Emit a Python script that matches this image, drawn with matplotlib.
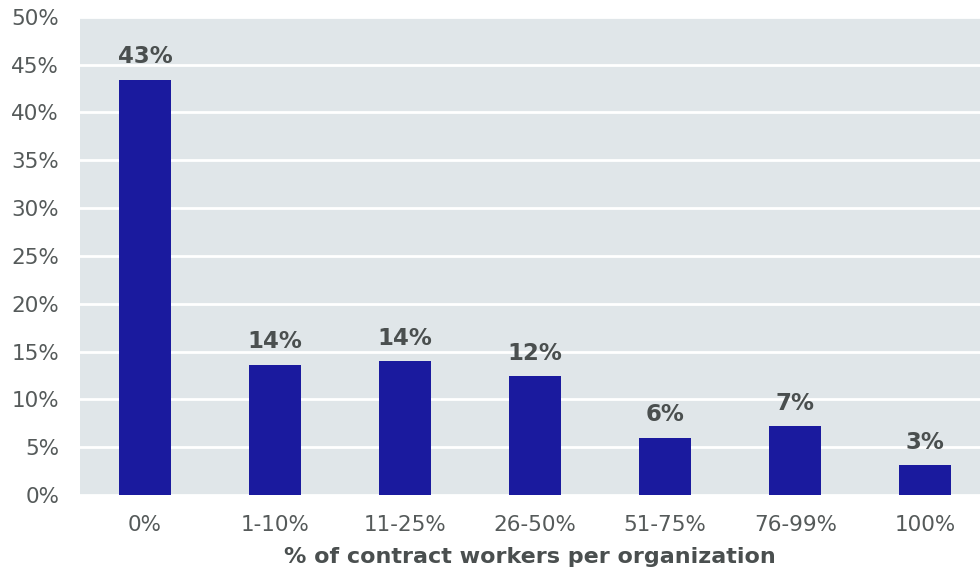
import matplotlib.pyplot as plt

categories = ["0%", "1-10%", "11-25%", "26-50%", "51-75%", "76-99%", "100%"]
shares = [43.4, 13.6, 14.0, 12.4, 6.0, 7.2, 3.1]
labels = ["43%", "14%", "14%", "12%", "6%", "7%", "3%"]

fig = plt.figure(figsize=(9.8, 5.77), dpi=100)
ax = fig.add_axes([0.0816, 0.142, 0.9184, 0.829])
ax.set_facecolor("#e0e6e9")

x = range(len(categories))
ax.bar(x, shares, width=0.4, color="#1a1a9e", zorder=3)

for i, (v, t) in enumerate(zip(shares, labels)):
    ax.text(i, v + 1.2, t, ha="center", va="bottom", fontsize=16.5,
            fontweight="bold", color="#4a4f4f")

ax.set_ylim(0, 50)
ax.set_xlim(-0.5, 6.42)
ax.set_yticks(range(0, 51, 5))
ax.set_yticklabels([f"{v}%" for v in range(0, 51, 5)])
ax.set_xticks(list(x))
ax.set_xticklabels(categories)
ax.tick_params(axis="both", length=0, labelsize=15.5, labelcolor="#555a5a")
ax.tick_params(axis="x", pad=14)
ax.tick_params(axis="y", pad=15)
ax.grid(axis="y", color="white", linewidth=2, zorder=1)
for s in ax.spines.values():
    s.set_visible(False)
ax.set_xlabel("% of contract workers per organization", fontsize=16,
              fontweight="bold", color="#4a4f4f", labelpad=9)

fig.savefig("out.png")
